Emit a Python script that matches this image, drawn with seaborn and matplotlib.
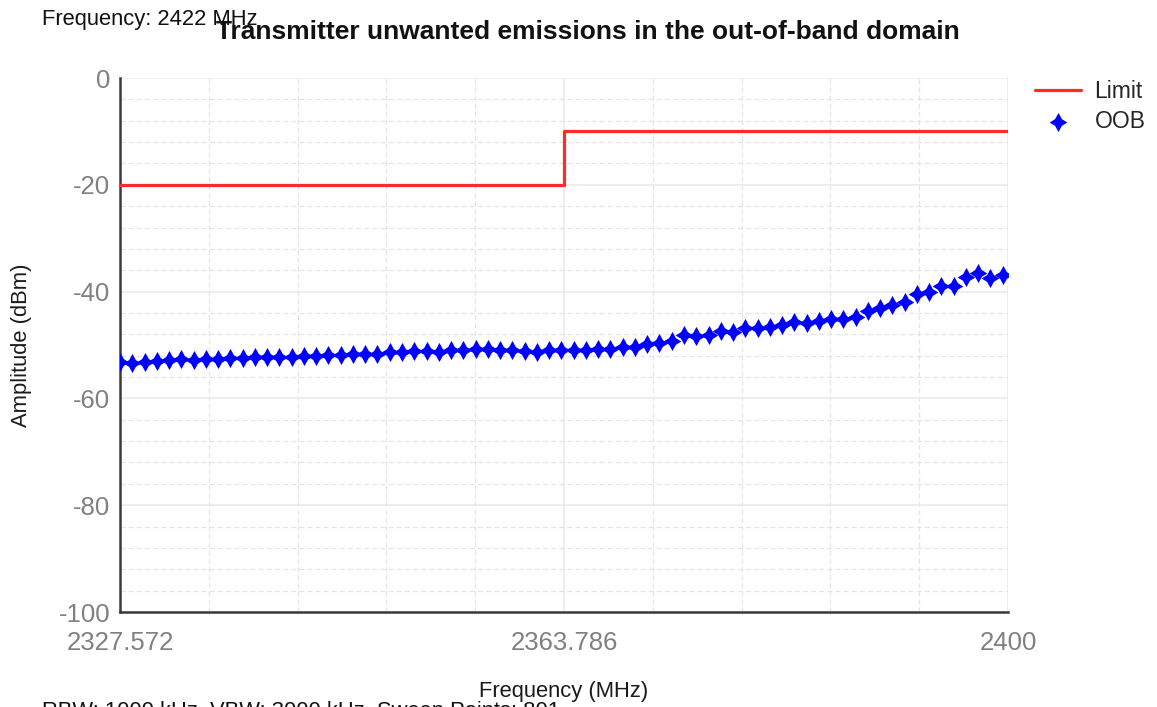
import numpy as np
import pandas as pd
import matplotlib
matplotlib.use("Agg")
import matplotlib.pyplot as plt
from matplotlib.ticker import MultipleLocator, FixedLocator
import seaborn as sns

# Sweep settings
centre_freq_label = "Frequency: 2422 MHz"
sweep_info = "RBW: 1000 kHz, VBW: 3000 kHz, Sweep Points: 801"

# Limit mask (step line, dBm)
limit_freq = [2327.572, 2363.786, 2400.0]
limit_level = [-20, -10, -10]

# Measured out-of-band emission levels (dBm), one per MHz starting at 2327.572 MHz
oob_freq = np.round(np.arange(2327.572, 2400.0, 1.0), 3)
oob_level = [
    -53.2, -53.3, -53.1, -53.0, -52.9, -52.7, -52.8, -52.6, -52.7, -52.4,
    -52.4, -52.3, -52.3, -52.2, -52.3, -52.1, -52.1, -51.9, -51.9, -51.7,
    -51.6, -51.6, -51.4, -51.3, -51.2, -51.2, -51.3, -51.0, -50.9, -50.7,
    -50.8, -50.9, -50.9, -51.2, -51.4, -50.9, -51.0, -50.9, -50.9, -50.8,
    -50.8, -50.4, -50.3, -49.8, -49.7, -49.3, -48.1, -48.4, -48.1, -47.3,
    -47.5, -46.9, -46.9, -46.6, -46.3, -45.6, -45.8, -45.5, -45.2, -45.2,
    -44.7, -43.6, -43.1, -42.5, -41.9, -40.5, -40.1, -39.0, -39.0, -37.2,
    -36.6, -37.5, -36.9,
]

x_tick_values = [2327.572, 2363.786, 2400.0]
x_tick_labels = ["2327.572", "2363.786", "2400"]

sns.set_theme(style="white")
plt.rcParams["font.family"] = ["Liberation Sans", "DejaVu Sans"]
plt.rcParams["axes.unicode_minus"] = False

limit_df = pd.DataFrame({"freq": limit_freq, "level": limit_level})
oob_df = pd.DataFrame({"freq": oob_freq, "level": oob_level})

fig = plt.figure(figsize=(11.57, 7.07), dpi=100)
ax = fig.add_axes([120 / 1157, 1 - 612 / 707, 888 / 1157, 534 / 707])

# four-pointed star marker
r_in = 0.5
star = []
for i in range(8):
    ang = np.pi / 2 + i * np.pi / 4
    if i % 2 == 0:
        sx, rad = 0.92, 1.0
    else:
        sx, rad = 1.0, r_in
    star.append((sx * rad * np.cos(ang), rad * np.sin(ang)))
star.append(star[0])

sns.lineplot(data=limit_df, x="freq", y="level", ax=ax, color="#ff2a2a",
             linewidth=2.3, drawstyle="steps-post", label="Limit",
             estimator=None, sort=False, zorder=3)
sns.scatterplot(data=oob_df, x="freq", y="level", ax=ax, color="#0000ff",
                marker=star, s=190, linewidth=0, label="OOB", zorder=4)

ax.set_xlim(2327.572, 2400.0)
ax.set_ylim(-100, 0)

ax.xaxis.set_major_locator(FixedLocator(x_tick_values))
ax.set_xticklabels(x_tick_labels)
ax.xaxis.set_minor_locator(FixedLocator(np.linspace(2327.572, 2400.0, 11)))
ax.yaxis.set_major_locator(MultipleLocator(20))
ax.yaxis.set_minor_locator(MultipleLocator(4))

ax.grid(which="major", color="#ebebeb", linewidth=1.2, linestyle="-")
ax.grid(which="minor", color="#e4e4e4", linewidth=0.9, linestyle=(0, (4, 2.5)))
ax.set_axisbelow(True)

for side in ("top", "right"):
    ax.spines[side].set_visible(False)
for side in ("left", "bottom"):
    ax.spines[side].set_color("#3a3a3a")
    ax.spines[side].set_linewidth(1.8)

ax.tick_params(which="both", length=0)
ax.tick_params(axis="x", labelsize=18.5, labelcolor="#808080", pad=14)
ax.tick_params(axis="y", labelsize=18.5, labelcolor="#808080", pad=7)

ax.set_xlabel("Frequency (MHz)", fontsize=15.8, color="#1a1a1a", labelpad=14)
ax.set_ylabel("Amplitude (dBm)", fontsize=15.8, color="#1a1a1a")
ax.yaxis.set_label_coords(-(120 - 22) / 888, 0.5)
ax.xaxis.set_label_coords(0.5, -(691 - 612) / 534)
ax.xaxis.label.set_va("center")
ax.yaxis.label.set_va("center")

fig.text(588 / 1157, 1 - 32 / 707,
         "Transmitter unwanted emissions in the out-of-band domain",
         ha="center", va="center", fontsize=19, fontweight="bold", color="#111111")
fig.text(42 / 1157, 1 - 19 / 707, centre_freq_label, ha="left", va="center",
         fontsize=15.8, color="#111111")
fig.text(42 / 1157, 1 - 701 / 707, sweep_info, ha="left", va="top",
         fontsize=15.8, color="#111111")

leg = ax.legend(loc="upper left", bbox_to_anchor=(1.02, 1.013), frameon=False,
                fontsize=16.5, handlelength=2.0, handletextpad=0.6,
                labelspacing=0.3, borderaxespad=0)

fig.savefig("out.png", dpi=100)
